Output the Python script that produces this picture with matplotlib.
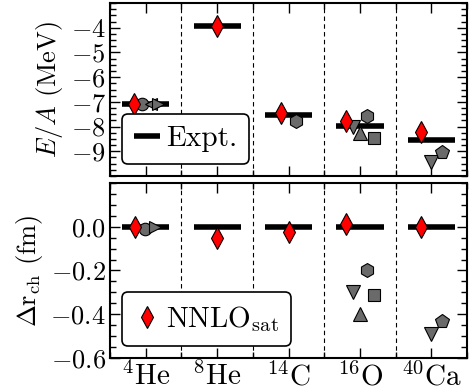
import matplotlib
matplotlib.use("Agg")
import matplotlib.pyplot as plt
from matplotlib.ticker import MultipleLocator

plt.rcParams['font.family'] = 'serif'
plt.rcParams['font.serif'] = ['cmr10']
plt.rcParams['mathtext.fontset'] = 'cm'
plt.rcParams['axes.formatter.use_mathtext'] = True

# nuclei and experimental values
nuclei = [r'$^{4}$He', r'$^{8}$He', r'$^{14}$C', r'$^{16}$O', r'$^{40}$Ca']
expt_ea = [-7.07, -3.93, -7.52, -7.98, -8.55]
expt_dr = [0.0, 0.0, 0.0, 0.0, 0.0]

# NNLO_sat (red diamonds): position offset, E/A, delta r_ch
nnlo_x_top = [-0.17, 0.0, -0.1, -0.2, -0.15]
nnlo_ea = [-7.07, -3.93, -7.45, -7.78, -8.23]
nnlo_x_bot = [-0.15, 0.0, 0.0, -0.2, -0.15]
nnlo_dr = [0.0, -0.05, -0.023, 0.014, 0.0]

# other calculations (gray markers): (nucleus index, offset, value, marker)
others_top = [
    (0, -0.05, -7.10, 'o'),
    (0, 0.08, -7.07, '<'),
    (0, 0.17, -7.07, '>'),
    (2, 0.11, -7.77, 'h'),
    (3, -0.1, -8.02, 'v'),
    (3, 0.0, -8.27, '^'),
    (3, 0.1, -7.56, 'h'),
    (3, 0.2, -8.47, 's'),
    (4, 0.0, -9.42, 'v'),
    (4, 0.15, -9.04, 'p'),
]
others_bot = [
    (0, -0.01, -0.01, 'o'),
    (0, 0.13, 0.0, '>'),
    (3, -0.1, -0.30, 'v'),
    (3, 0.0, -0.40, '^'),
    (3, 0.1, -0.20, 'h'),
    (3, 0.2, -0.31, 's'),
    (4, 0.0, -0.49, 'v'),
    (4, 0.15, -0.43, 'p'),
]

fig = plt.figure(figsize=(4.7, 3.9), dpi=100)
ax1 = fig.add_axes([0.234, 0.549, 0.760, 0.443])
ax2 = fig.add_axes([0.234, 0.082, 0.760, 0.449])

gray = '#6a6a6a'
msize = {'o': 9, '<': 9, '>': 9, 'v': 10, '^': 10, 'h': 10, 's': 9, 'p': 10}

for ax, expt, nx, nv, others in [(ax1, expt_ea, nnlo_x_top, nnlo_ea, others_top),
                                 (ax2, expt_dr, nnlo_x_bot, nnlo_dr, others_bot)]:
    for xv in [0.5, 1.5, 2.5, 3.5]:
        ax.axvline(xv, color='k', ls=(0, (4, 3)), lw=0.8, zorder=1)
    for i, v in enumerate(expt):
        ax.plot([i - 0.33, i + 0.33], [v, v], color='k', lw=4, solid_capstyle='butt', zorder=2,
                label='Expt.' if i == 0 else None)
    for i, off, v, m in others:
        ax.plot(i + off, v, marker=m, ms=msize[m], color=gray, mec='k', mew=0.8, ls='none', zorder=3)
    ax.plot([i + o for i, o in enumerate(nx)], nv, marker='d', ms=11, color='red', mec='k',
            mew=0.8, ls='none', zorder=4, label=r'NNLO$_{\rm sat}$')
    ax.set_xlim(-0.5, 4.5)
    ax.set_xticks(range(5))
    ax.xaxis.set_minor_locator(MultipleLocator(0.5))
    ax.tick_params(which='both', direction='in', top=True, right=True, labelsize=19, pad=3)
    ax.tick_params(which='major', length=7, width=1)
    ax.tick_params(which='minor', length=4, width=1)
    for s in ax.spines.values():
        s.set_linewidth(1.5)

ax1.set_ylim(-10, -3)
ax1.set_yticks([-4, -5, -6, -7, -8, -9])
ax1.yaxis.set_minor_locator(MultipleLocator(0.25))
ax1.set_xticklabels([])
ax1.set_ylabel(r'$E/A$ (MeV)', fontsize=19)
h, l = ax1.get_legend_handles_labels()
ax1.legend([h[0]], [l[0]], loc='lower left', fontsize=21, handlelength=0.9, handletextpad=0.2,
           fancybox=True, edgecolor='k', framealpha=1, borderpad=0.4, borderaxespad=0.0,
           bbox_to_anchor=(0.034, 0.07)).get_frame().set_linewidth(1.2)

ax2.set_ylim(-0.6, 0.2)
ax2.set_yticks([0.0, -0.2, -0.4, -0.6])
ax2.yaxis.set_minor_locator(MultipleLocator(0.05))
ax2.set_xticklabels(nuclei, fontsize=21)
ax2.set_ylabel(r'$\Delta \mathrm{r}_{\rm ch}$ (fm)', fontsize=19)
h, l = ax2.get_legend_handles_labels()
ax2.legend([h[-1]], [l[-1]], loc='lower left', fontsize=21, handletextpad=0.2, numpoints=1,
           handlelength=0.9, fancybox=True, edgecolor='k', framealpha=1, borderpad=0.4,
           borderaxespad=0.0, bbox_to_anchor=(0.034, 0.07)).get_frame().set_linewidth(1.2)

fig.align_ylabels([ax1, ax2])
fig.savefig('out.png', dpi=100)
